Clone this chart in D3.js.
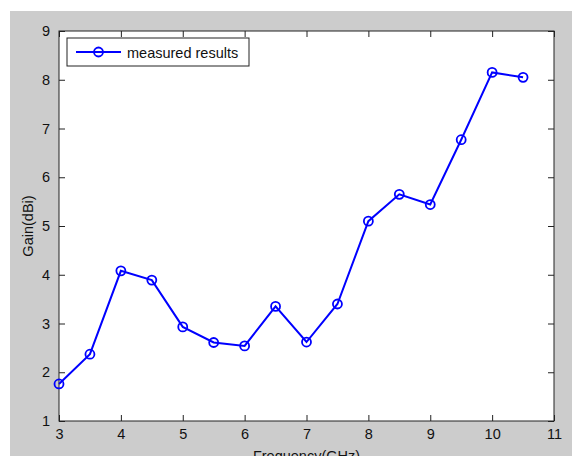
<!DOCTYPE html>
<html>
<head>
<meta charset="utf-8">
<script src="https://cdn.jsdelivr.net/npm/d3@7"></script>
<style>
  body { margin: 0; background: #fff; }
  svg { display: block; font-family: "Liberation Sans", Arial, sans-serif; }
</style>
</head>
<body>
<div id="chart"></div>
<script>
// measured gain values
const freq = [3, 3.5, 4, 4.5, 5, 5.5, 6, 6.5, 7, 7.5, 8, 8.5, 9, 9.5, 10, 10.5]
const gain = [1.76, 2.37, 4.08, 3.89, 2.93, 2.61, 2.54, 3.35, 2.62, 3.40, 5.10, 5.65, 5.44, 6.77, 8.15, 8.05]
const xTicks = [3, 4, 5, 6, 7, 8, 9, 10, 11]
const yTicks = [1, 2, 3, 4, 5, 6, 7, 8, 9]
const seriesName = 'measured results'

const width = 572, height = 456
const axLeft = 59, axRight = 554, axTop = 31, axBottom = 421
const blue = '#0000ff'

const svg = d3.select('#chart').append('svg')
    .attr('width', width)
    .attr('height', height)

// figure background (grey, cropped at top/left)
svg.append('rect')
    .attr('x', 10).attr('y', 11)
    .attr('width', width - 10).attr('height', height - 11)
    .attr('fill', '#cccccc')

svg.append('rect')
    .attr('x', axLeft).attr('y', axTop)
    .attr('width', axRight - axLeft).attr('height', axBottom - axTop)
    .attr('fill', '#fff')

const x = d3.scaleLinear().domain([3, 11]).range([axLeft, axRight])
const y = d3.scaleLinear().domain([1, 9]).range([axBottom, axTop])

const tickLen = 6
const styleAxis = (g) => {
    g.select('.domain').remove()
    g.selectAll('line').attr('stroke', '#222')
    g.selectAll('text').attr('fill', '#111').style('font-size', '14.5px')
}

svg.append('g')
    .attr('transform', `translate(0, ${axBottom})`)
    .call(d3.axisBottom(x).tickValues(xTicks).tickSizeInner(-tickLen).tickSizeOuter(0).tickPadding(8).tickFormat(d3.format('d')))
    .call(styleAxis)

svg.append('g')
    .attr('transform', `translate(0, ${axTop})`)
    .call(d3.axisTop(x).tickValues(xTicks).tickSizeInner(-tickLen).tickSizeOuter(0).tickFormat(''))
    .call(styleAxis)

svg.append('g')
    .attr('transform', `translate(${axLeft}, 0)`)
    .call(d3.axisLeft(y).tickValues(yTicks).tickSizeInner(-tickLen).tickSizeOuter(0).tickPadding(9).tickFormat(d3.format('d')))
    .call(styleAxis)

svg.append('g')
    .attr('transform', `translate(${axRight}, 0)`)
    .call(d3.axisRight(y).tickValues(yTicks).tickSizeInner(-tickLen).tickSizeOuter(0).tickFormat(''))
    .call(styleAxis)

// axes box
svg.append('rect')
    .attr('x', axLeft).attr('y', axTop)
    .attr('width', axRight - axLeft).attr('height', axBottom - axTop)
    .attr('fill', 'none')
    .attr('stroke', '#222')
    .attr('stroke-width', 1)

const pts = freq.map((f, i) => ({ f: f, g: gain[i] }))

const line = d3.line()
    .x(d => x(d.f))
    .y(d => y(d.g))

svg.append('path')
    .datum(pts)
    .attr('d', line)
    .attr('fill', 'none')
    .attr('stroke', blue)
    .attr('stroke-width', 2)

svg.append('g')
    .selectAll('circle')
    .data(pts)
    .enter()
    .append('circle')
        .attr('cx', d => x(d.f))
        .attr('cy', d => y(d.g))
        .attr('r', 4.5)
        .attr('fill', 'none')
        .attr('stroke', blue)
        .attr('stroke-width', 1.8)

// axis labels
svg.append('text')
    .text('Frequency(GHz)')
    .attr('x', (axLeft + axRight) / 2)
    .attr('y', 461)
    .attr('text-anchor', 'middle')
    .style('font-size', '14.5px')
    .attr('fill', '#111')

svg.append('text')
    .text('Gain(dBi)')
    .attr('transform', `translate(33, ${(axTop + axBottom) / 2}) rotate(-90)`)
    .attr('text-anchor', 'middle')
    .style('font-size', '14.5px')
    .attr('fill', '#111')

// legend
const legend = svg.append('g')
legend.append('rect')
    .attr('x', 67).attr('y', 38)
    .attr('width', 182).attr('height', 28)
    .attr('fill', '#fff')
    .attr('stroke', '#222')
legend.append('line')
    .attr('x1', 76).attr('x2', 121)
    .attr('y1', 52).attr('y2', 52)
    .attr('stroke', blue)
    .attr('stroke-width', 2)
legend.append('circle')
    .attr('cx', 98.5).attr('cy', 52)
    .attr('r', 4.5)
    .attr('fill', 'none')
    .attr('stroke', blue)
    .attr('stroke-width', 1.8)
legend.append('text')
    .text(seriesName)
    .attr('x', 127).attr('y', 57.5)
    .style('font-size', '14.5px')
    .attr('fill', '#111')
</script>
</body>
</html>
